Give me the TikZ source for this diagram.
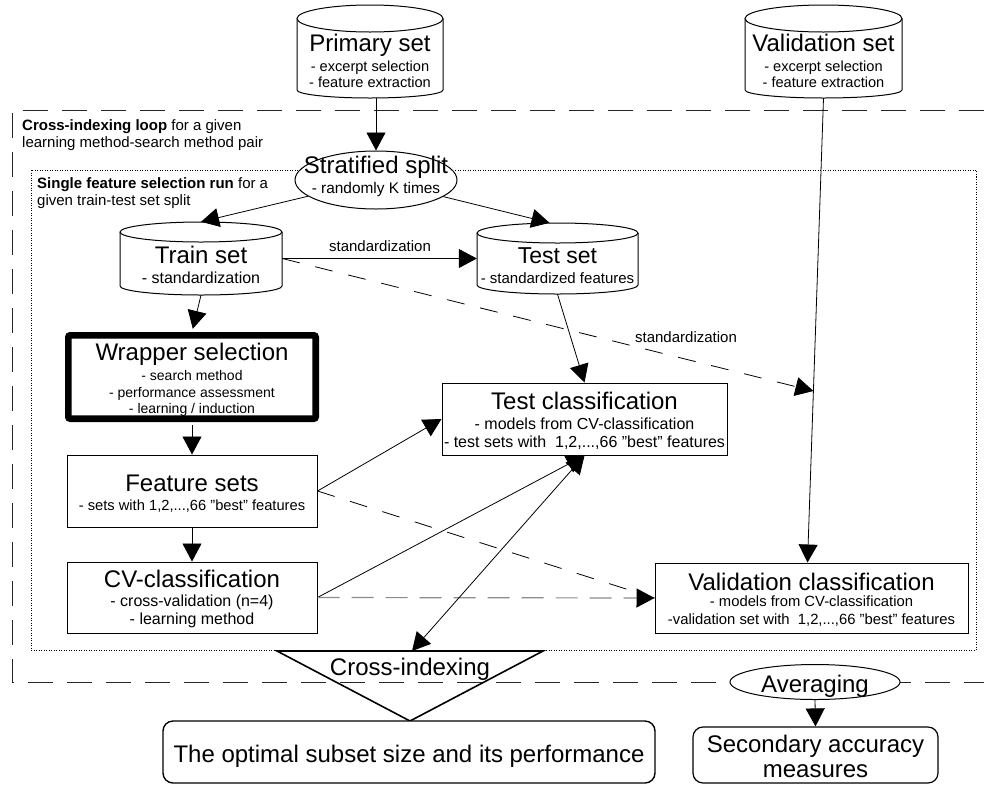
\documentclass[tikz,border=0pt]{standalone}
\usepackage{fontspec}
\setmainfont{Liberation Sans}
\usetikzlibrary{arrows.meta,shapes.geometric}
\newcommand{\tx}[4]{\node[anchor=base,inner sep=0pt,font=\fontsize{#1}{#1}\selectfont] (#2) at (#3) {#4};}
\newcommand{\txl}[4]{\node[anchor=base west,inner sep=0pt,font=\fontsize{#1}{#1}\selectfont] (#2) at (#3) {#4};}
\begin{document}
\begin{tikzpicture}[x=1pt,y=-1pt,
  ln/.style={line width=0.8pt},
  tip/.style={-{Triangle[length=18pt,width=19pt,color=black]}},
  arr/.style={ln,tip},
  darr/.style={ln,{Triangle[length=18pt,width=19pt]}-{Triangle[length=18pt,width=19pt]}},
  dsh/.style={dash pattern=on 18pt off 16pt},
  gdsh/.style={draw=black!45,line width=1.2pt,dash pattern=on 22pt off 12pt},
  box/.style={draw,line width=1pt,inner sep=0pt,fill=white},
  shp/.style={draw,line width=1pt,fill=white},
  anc/.style={inner sep=0pt,draw=none}
]
\useasboundingbox (0,0) rectangle (984,785);
\fill[white] (0,0) rectangle (984,785);

% frames
\draw[line width=0.9pt,black!85,dash pattern=on 25pt off 14pt] (984,110) -- (12,110) -- (12,682) -- (984,682);
\draw[line width=0.8pt,dash pattern=on 1pt off 1.5pt] (31,170) rectangle (976,650);
\node[anc] (frameA) at (12,110) {};
\node[anc] (frameB) at (31,170) {};

\txl{15}{lblA}{22,130}{\textbf{Cross-indexing loop} for a given}
\txl{15}{lblB}{22,147}{learning method-search method pair}
\txl{15}{lblC}{37,188}{\textbf{Single feature selection run} for a}
\txl{15}{lblD}{37,205}{given train-test set split}

% Primary set cylinder
\draw[shp] (297,18.5) -- (297,90) arc[start angle=180,end angle=0,x radius=73,y radius=8] -- (443,18.5);
\draw[shp] (370,18.5) ellipse[x radius=73,y radius=13.5];
\node[anc,minimum width=146pt,minimum height=93pt] (prim) at (370,51.5) {};
\tx{24}{primT}{370,51}{Primary set}
\tx{14.6}{primA}{370,71}{- excerpt selection}
\tx{14.6}{primB}{370,87}{- feature extraction}

% Validation set cylinder
\draw[shp] (745,18.5) -- (745,90) arc[start angle=180,end angle=0,x radius=78.5,y radius=8] -- (902,18.5);
\draw[shp] (823.5,18.5) ellipse[x radius=78.5,y radius=13.5];
\node[anc,minimum width=157pt,minimum height=93pt] (vset) at (823.5,51.5) {};
\tx{24}{vsetT}{823.5,51}{Validation set}
\tx{14.6}{vsetA}{823.5,71}{- excerpt selection}
\tx{14.6}{vsetB}{823.5,87}{- feature extraction}

% Stratified split
\node[shp,ellipse,minimum width=162pt,minimum height=58pt,inner sep=0pt] (strat) at (376,180) {};
\tx{24}{stratT}{376,173}{Stratified split}
\tx{15.4}{stratA}{376,193}{- randomly K times}

% Train set
\draw[shp] (120,232) -- (120,286) arc[start angle=180,end angle=0,x radius=81,y radius=9] -- (282,232);
\draw[shp] (201,232) ellipse[x radius=81,y radius=10];
\node[anc,minimum width=162pt,minimum height=73pt] (train) at (201,258.5) {};
\tx{24}{trainT}{201,263}{Train set}
\tx{16}{trainA}{201,283}{- standardization}

% Test set
\draw[shp] (477,233) -- (477,285) arc[start angle=180,end angle=0,x radius=80.5,y radius=9] -- (638,233);
\draw[shp] (557.5,233) ellipse[x radius=80.5,y radius=10];
\node[anc,minimum width=161pt,minimum height=71pt] (test) at (557.5,258.5) {};
\tx{23}{testT}{557.5,263}{Test set}
\tx{15}{testA}{557.5,283}{- standardized features}

% Wrapper selection
\node[draw,line width=6.7pt,rounded corners=2pt,fill=white,inner sep=0pt,minimum width=247.3pt,minimum height=83.3pt] (wrap) at (192,377) {};
\tx{24}{wrapT}{192,360}{Wrapper selection}
\tx{14}{wrapA}{192,380}{- search method}
\tx{14}{wrapB}{192,397}{- performance assessment}
\tx{14}{wrapC}{192,413}{- learning / induction}

% Feature sets
\node[box,minimum width=250pt,minimum height=72pt] (feat) at (192,491) {};
\tx{24}{featT}{192,491}{Feature sets}
\tx{14.7}{featA}{192,510}{- sets with 1,2,...,66 "best" features}

% CV-classification
\node[box,minimum width=250pt,minimum height=71pt] (cv) at (192,597.5) {};
\tx{24}{cvT}{192,587}{CV-classification}
\tx{16}{cvA}{192,606}{- cross-validation (n=4)}
\tx{16}{cvB}{192,624}{- learning method}

% Test classification
\node[box,minimum width=285pt,minimum height=72pt] (testcl) at (584.5,419) {};
\tx{24}{testclT}{584.5,409}{Test classification}
\tx{16}{testclA}{584.5,429}{- models from CV-classification}
\tx{16}{testclB}{584.5,447}{- test sets with~~1,2,...,66 ”best” features}

% Validation classification
\node[box,minimum width=313pt,minimum height=70pt] (valcl) at (811.5,598) {};
\tx{24}{valclT}{811.5,590}{Validation classification}
\tx{14.8}{valclA}{811.5,606}{- models from CV-classification}
\tx{14.8}{valclB}{811.5,624}{-validation set with~~1,2,...,66 ”best” features}

% Cross-indexing triangle
\draw[line width=1.6pt,line join=miter] (277,651) -- (543,651) -- (410,721) -- cycle;
\coordinate (ciTop) at (412,651);
\tx{24}{ciT}{410,675}{Cross-indexing}

% Optimal box
\node[box,line width=1.4pt,rounded corners=10pt,minimum width=492pt,minimum height=62pt] (opt) at (409,752) {};
\tx{24}{optT}{409,762}{The optimal subset size and its performance}

% Averaging
\node[shp,ellipse,minimum width=170pt,minimum height=35pt,inner sep=0pt] (avg) at (815,682) {};
\tx{24}{avgT}{815,692}{Averaging}

% Secondary box
\node[box,line width=1.2pt,rounded corners=10pt,minimum width=245pt,minimum height=56pt] (sec) at (815.5,755) {};
\tx{24}{secT}{815.5,752}{Secondary accuracy}
\tx{24}{secB}{815.5,777}{measures}

% connectors
\coordinate (vtip) at (813.4,391);
\draw[arr] (prim.south -| strat.north) -- (strat.north);
\draw[arr] (strat) -- (train.north);
\draw[arr] (strat) -- ([xshift=-8pt]test.north);
\draw[arr] (train.east) -- (test.west);
\tx{15}{stdA}{380,251}{standardization}
\draw[arr,dsh] (train.east) -- (vtip);
\tx{15}{stdB}{686,342}{standardization}
\draw[arr] (test.south) -- (testcl.north);
\draw[arr,shorten >=3.3pt] (train.south) -- (wrap.north);
\draw[arr,shorten <=3.3pt] (wrap.south) -- (feat.north);
\draw[arr] (feat.south) -- (cv.north);
\draw[arr] (feat.east) -- (testcl.west);
\draw[ln,dsh] (feat.east) -- (valcl.west);
\draw[arr] (cv.east) -- (testcl.south);
\draw[gdsh,tip] (cv.east) -- (valcl.west);
\draw[darr] (testcl.south) -- (ciTop);
\draw[arr] (vset.south) -- ([xshift=-4pt]valcl.north);
\draw[arr] (avg.south) -- (sec.north);
\end{tikzpicture}
\end{document}
